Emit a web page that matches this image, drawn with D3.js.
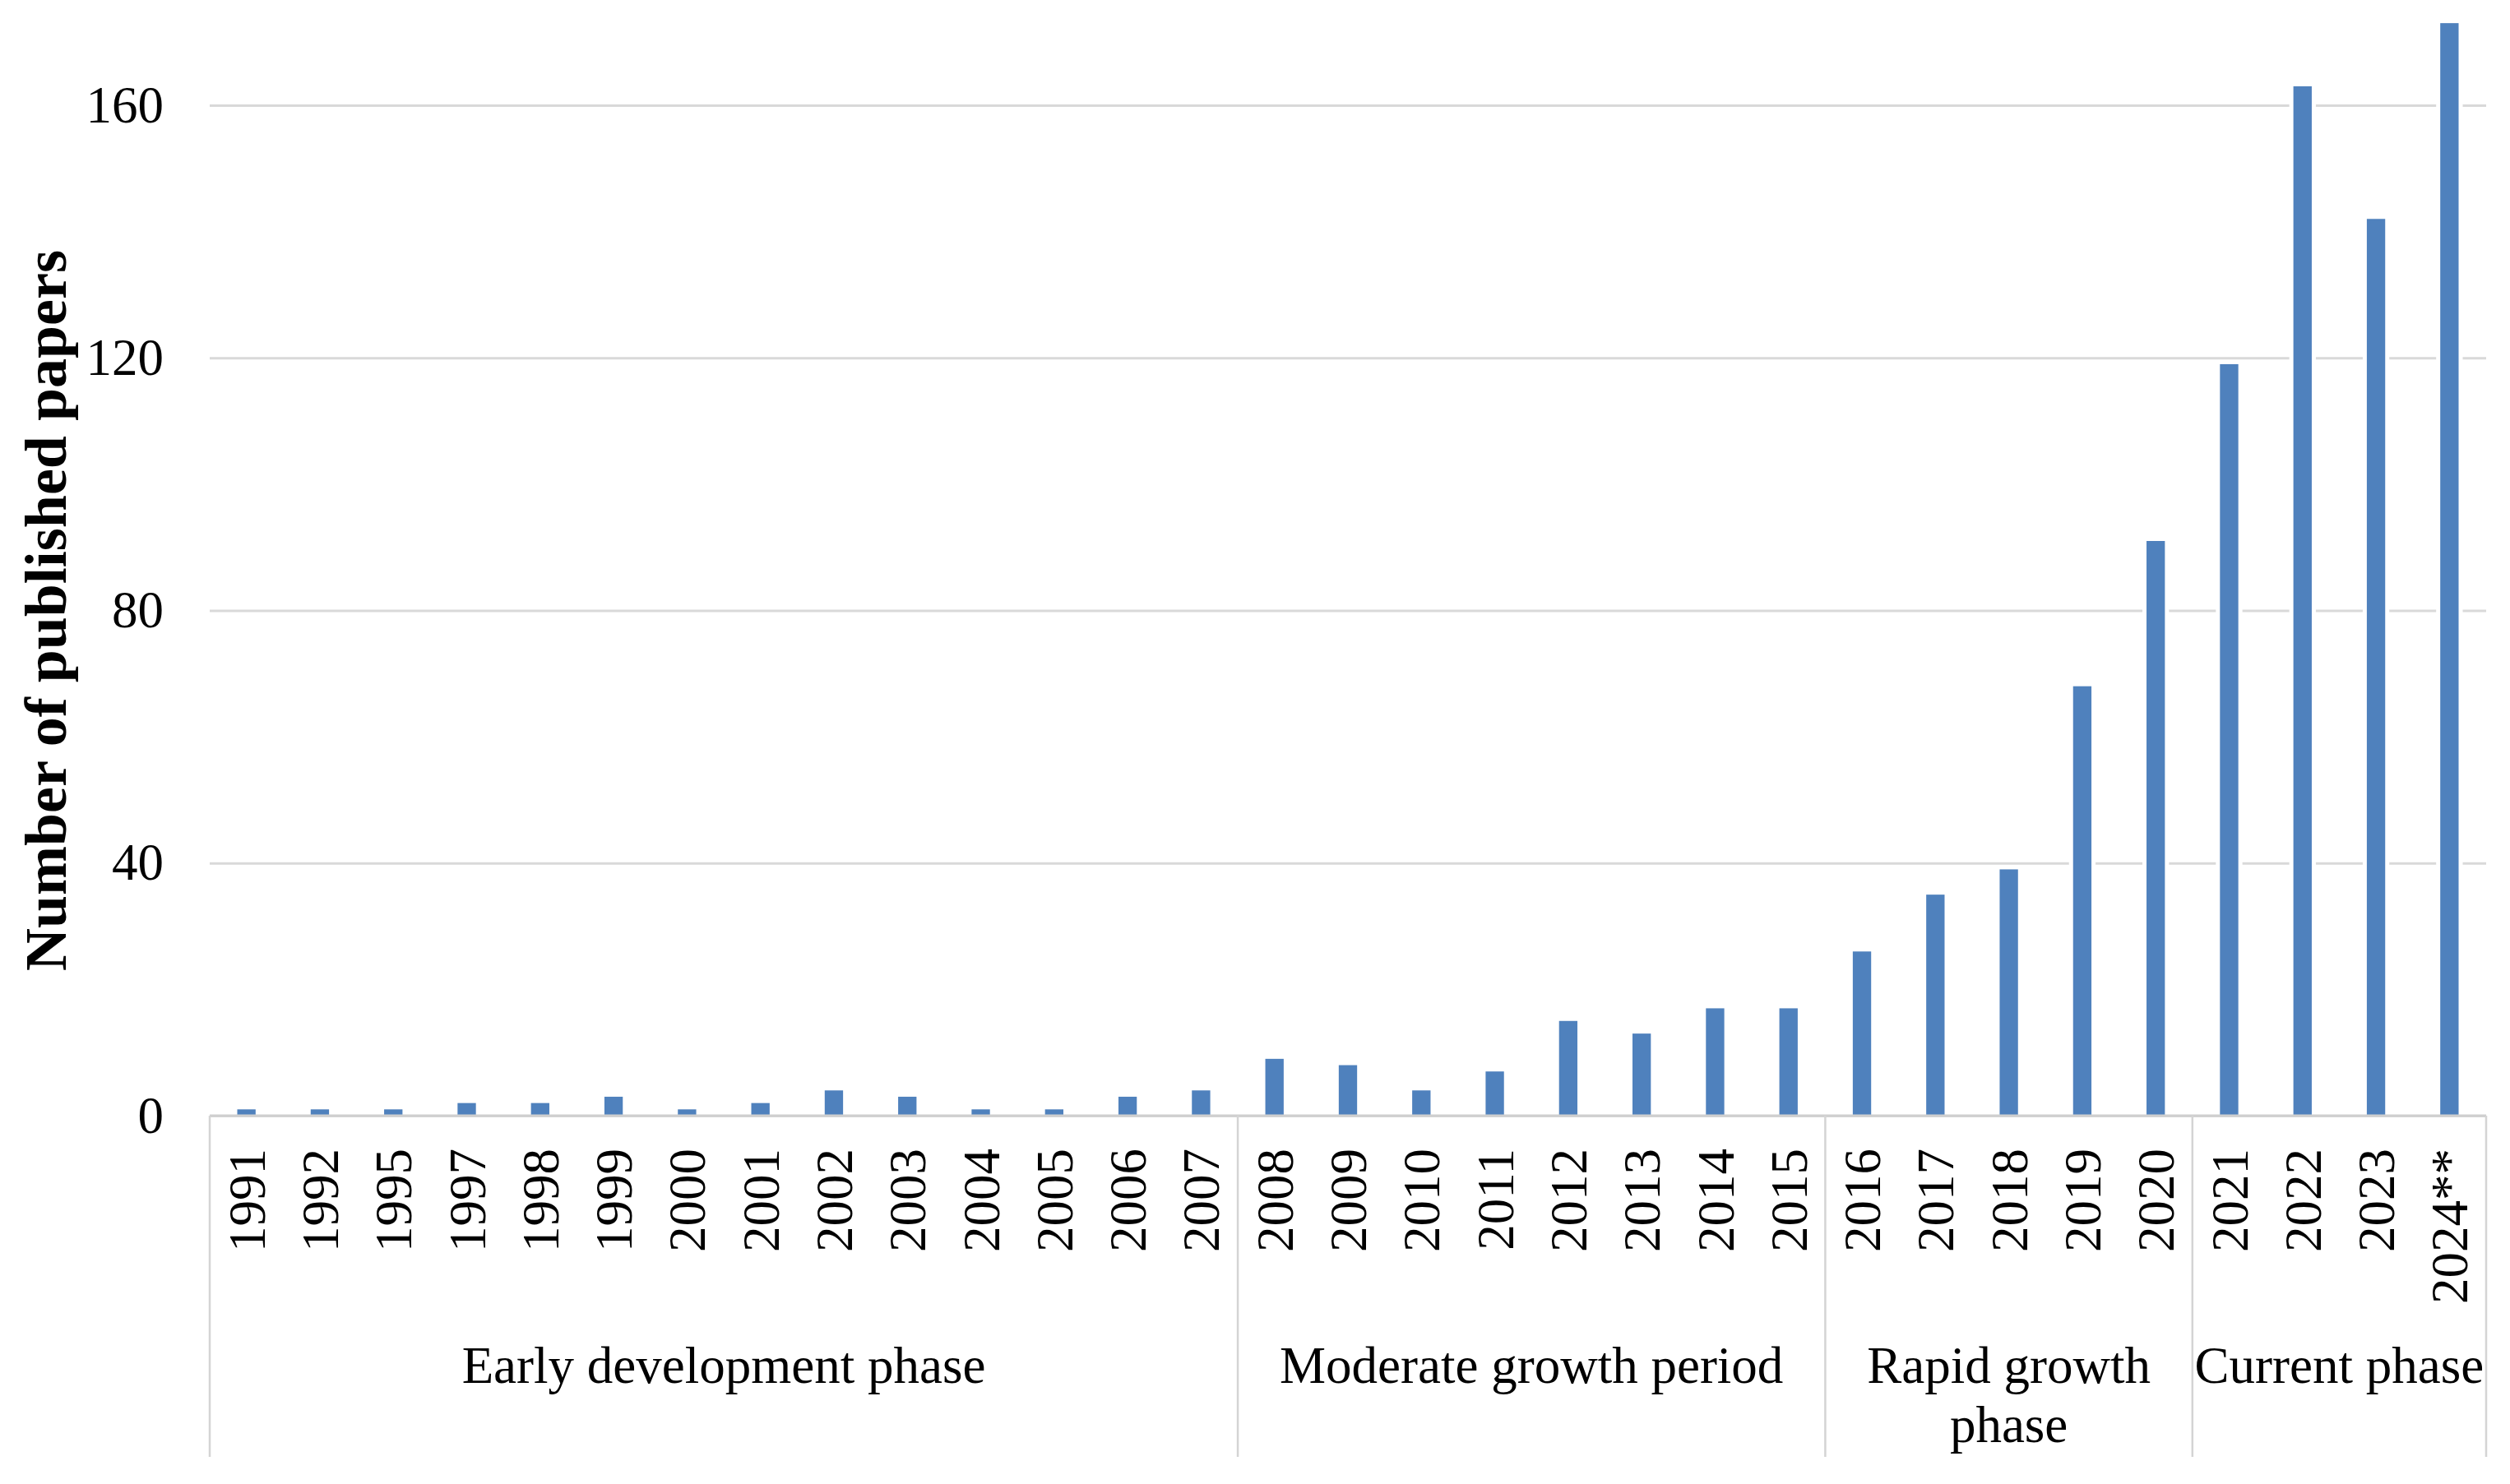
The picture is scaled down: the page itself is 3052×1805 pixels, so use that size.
<!DOCTYPE html>
<html>
<head>
<meta charset="utf-8">
<script src="https://cdn.jsdelivr.net/npm/d3@7"></script>
<style>
  html, body { margin: 0; padding: 0; background: #ffffff; }
  svg { display: block; }
  text { font-family: "Liberation Serif", "Times New Roman", serif; fill: #000; }
</style>
</head>
<body>
<svg id="chart" width="3052" height="1805"></svg>
<script>
// ---- data ----
const categories = ["1991","1992","1995","1997","1998","1999","2000","2001","2002","2003","2004","2005","2006","2007",
  "2008","2009","2010","2011","2012","2013","2014","2015",
  "2016","2017","2018","2019","2020",
  "2021","2022","2023","2024**"];
const papers = [1,1,1,2,2,3,1,2,4,3,1,1,3,4,
  9,8,4,7,15,13,17,17,
  26,35,39,68,91,
  119,163,142,173];
const yTicks = [0,40,80,120,160];
const groupStart = ["1991","2008","2016","2021"];
const groupEnd = ["2007","2015","2020","2024**"];
const groupLines = [["Early development phase"],["Moderate growth period"],["Rapid growth","phase"],["Current phase"]];
const yTitle = "Number of published papers";

// ---- layout ----
const W = 3052, H = 1805;
const left = 255, right = 3023, base = 1357, top160 = 128;
const svg = d3.select("#chart");

const x = d3.scaleBand().domain(categories).range([left, right]).padding(0);
const y = d3.scaleLinear().domain([0,160]).range([base, top160]);
const bw = x.bandwidth() * 0.25;

// gridlines + y tick labels
const yAxis = d3.axisLeft(y).tickValues(yTicks).tickSize(-(right-left)).tickPadding(56).tickFormat(d3.format("d"));
const gy = svg.append("g").attr("transform", `translate(${left},0)`).call(yAxis);
gy.select(".domain").remove();
gy.selectAll(".tick line").attr("stroke", "#d9d9d9").attr("stroke-width", 3);
gy.selectAll(".tick text").attr("font-size", 63).attr("font-family", "Liberation Serif, serif").attr("fill","#000");

// halo behind bars
svg.append("g").selectAll("rect").data(categories).join("rect")
  .attr("x", d => x(d) + x.bandwidth()/2 - bw/2 - 5)
  .attr("y", (d,i) => y(papers[i]) - 3)
  .attr("width", bw + 10)
  .attr("height", (d,i) => base - y(papers[i]) + 3)
  .attr("fill", "#ffffff");

// bars
svg.append("g").selectAll("rect").data(categories).join("rect")
  .attr("x", d => x(d) + x.bandwidth()/2 - bw/2)
  .attr("y", (d,i) => y(papers[i]))
  .attr("width", bw)
  .attr("height", (d,i) => base - y(papers[i]))
  .attr("fill", "#4F81BD");

// baseline axis
svg.append("line").attr("x1", left).attr("x2", right).attr("y1", base).attr("y2", base)
  .attr("stroke", "#cfcfcf").attr("stroke-width", 3);

// group separators
const sepX = [left].concat(groupEnd.map(g => x(g) + x.bandwidth()));
svg.append("g").selectAll("line").data(sepX).join("line")
  .attr("x1", d => d).attr("x2", d => d)
  .attr("y1", base).attr("y2", 1772)
  .attr("stroke", "#d4d4d4").attr("stroke-width", 2.5);

// year labels
svg.append("g").selectAll("text").data(categories).join("text")
  .attr("transform", d => `translate(${x(d) + x.bandwidth()/2},${base + 40}) rotate(-90)`)
  .attr("text-anchor", "end")
  .attr("dy", "0.35em")
  .attr("font-size", 63)
  .text(d => d);

// group labels
groupStart.forEach((g, i) => {
  const cx = (x(g) + x(groupEnd[i]) + x.bandwidth()) / 2;
  const t = svg.append("text").attr("text-anchor", "middle").attr("font-size", 63)
    .attr("x", cx).attr("y", 1682);
  groupLines[i].forEach((line, j) => {
    t.append("tspan").attr("x", cx).attr("dy", j === 0 ? 0 : 72).text(line);
  });
});

// y title
svg.append("text")
  .attr("transform", `translate(80,${(base + top160)/2}) rotate(-90)`)
  .attr("text-anchor", "middle")
  .attr("font-size", 72)
  .attr("font-weight", "bold")
  .text(yTitle);
</script>
</body>
</html>
